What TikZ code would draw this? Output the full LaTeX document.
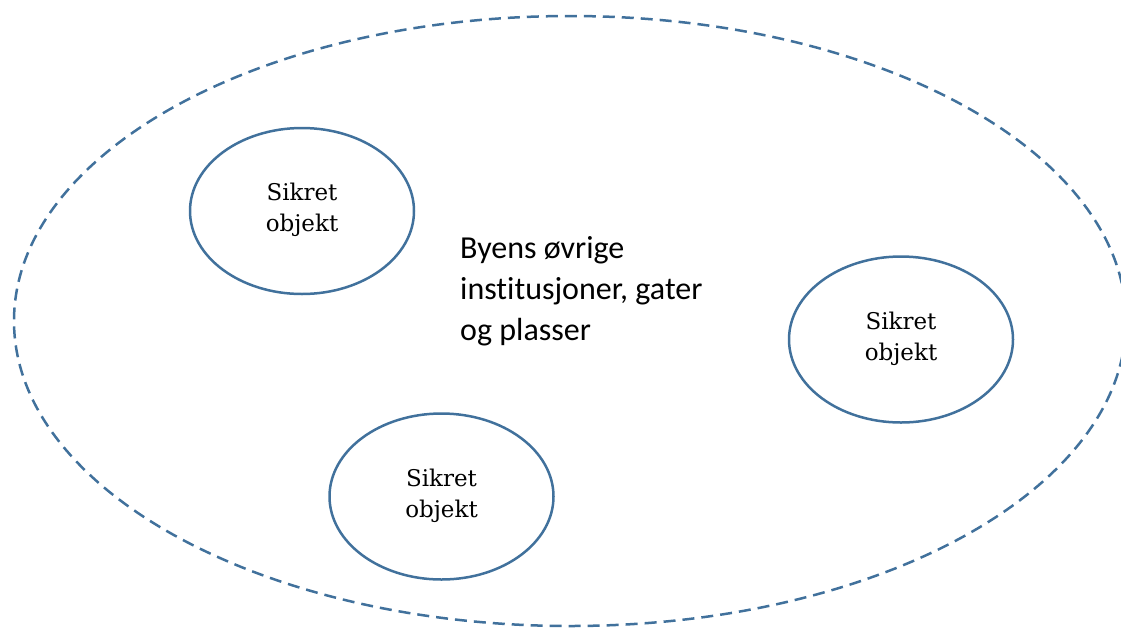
\documentclass[tikz,border=0pt]{standalone}
\usepackage{fontspec}
\setmainfont{DejaVu Serif}
\newfontfamily\calfont[Ligatures=NoCommon]{Carlito}
\usetikzlibrary{shapes.geometric}
\definecolor{edgeblue}{RGB}{65,113,156}
\tikzset{
  cityring/.style={draw=edgeblue, line width=2.5pt, dash pattern=on 12pt off 7pt, ellipse, inner sep=0pt, minimum width=1112pt, minimum height=610pt},
  objring/.style={draw=edgeblue, line width=2.5pt, ellipse, inner sep=0pt, minimum width=224pt, minimum height=166pt},
  objtext/.style={align=center, font=\fontsize{23pt}{31pt}\selectfont, inner sep=0pt},
  citytext/.style={align=left, font=\calfont\fontsize{32pt}{41pt}\selectfont, inner sep=0pt, anchor=base west}
}
\begin{document}
\begin{tikzpicture}[x=1pt,y=-1pt]
\useasboundingbox (0,0) rectangle (1121,630);
\node[cityring] (city) at (570,321) {};
\node[objring] (o1) at (302,211) {};
\node[objring] (o2) at (901,339.5) {};
\node[objring] (o3) at (441.5,496.5) {};
\node[objtext] (t1) at (302,210) {Sikret\\objekt};
\node[objtext] (t2) at (901,338.5) {Sikret\\objekt};
\node[objtext] (t3) at (441.5,495.5) {Sikret\\objekt};
\node[citytext] (ct) at (460,340) {Byens øvrige\\institusjoner, gater\\og plasser};
\end{tikzpicture}
\end{document}
